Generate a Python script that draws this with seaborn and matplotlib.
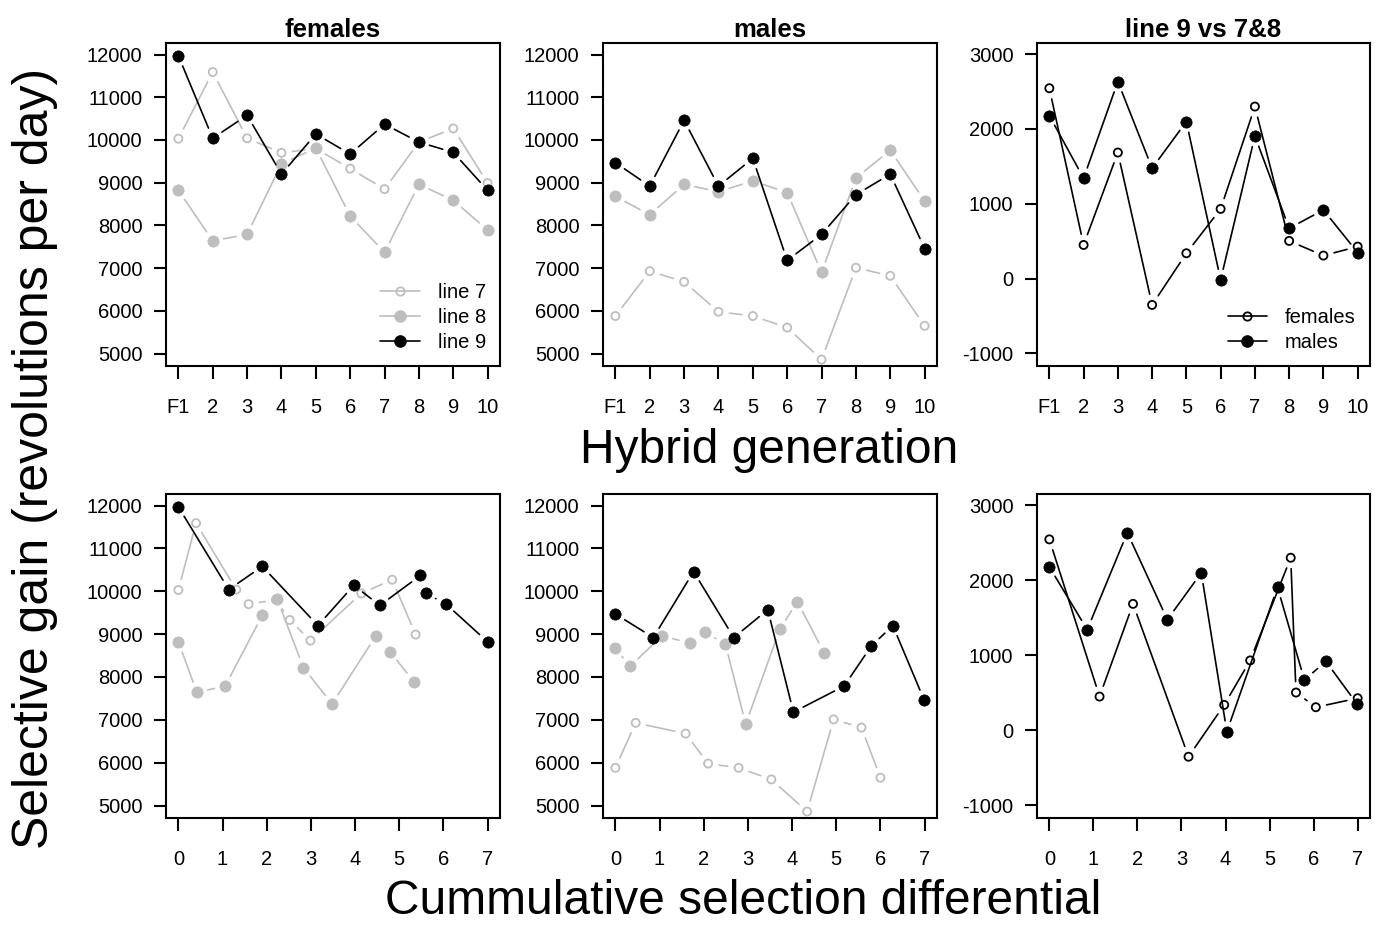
import numpy as np
import pandas as pd
import matplotlib
matplotlib.use("Agg")
import matplotlib.pyplot as plt
import seaborn as sns
from matplotlib.lines import Line2D

sns.set_theme(style="ticks")
plt.rcParams['font.family'] = ['Liberation Sans', 'DejaVu Sans']
plt.rcParams['text.color'] = 'black'
plt.rcParams['axes.labelcolor'] = 'black'

# ---- data -------------------------------------------------------------
generation = [1, 2, 3, 4, 5, 6, 7, 8, 9, 10]
generation_labels = ["F1", "2", "3", "4", "5", "6", "7", "8", "9", "10"]

# selective gain (revolutions per day), females
line7_f = [10030, 11590, 10040, 9700, 9800, 9330, 8850, 9950, 10270, 8990]
line8_f = [8820, 7640, 7790, 9440, 9810, 8220, 7370, 8960, 8590, 7890]
line9_f = [11970, 10040, 10580, 9200, 10140, 9670, 10370, 9950, 9710, 8820]

# selective gain (revolutions per day), males
line7_m = [5880, 6930, 6680, 5980, 5880, 5610, 4860, 7010, 6820, 5650]
line8_m = [8680, 8250, 8960, 8790, 9040, 8770, 6900, 9110, 9760, 8570]
line9_m = [9470, 8920, 10460, 8920, 9570, 7180, 7790, 8720, 9200, 7460]

# line 9 relative to lines 7 & 8
diff_f = [2545, 449, 1685, -353, 338, 931, 2300, 503, 307, 427]
diff_m = [2179, 1341, 2634, 1475, 2099, -19, 1907, 672, 917, 347]

# cumulative selection differential
csd_f7 = [0, 0.40, 1.31, 1.59, 2.21, 2.52, 2.99, 4.14, 4.84, 5.37]
csd_f8 = [0, 0.42, 1.06, 1.90, 2.24, 2.83, 3.48, 4.47, 4.79, 5.33]
csd_f9 = [0, 1.14, 1.90, 3.16, 3.97, 4.56, 5.48, 5.60, 6.05, 7.00]
csd_m7 = [0, 0.46, 1.59, 2.10, 2.79, 3.53, 4.34, 4.94, 5.57, 6.00]
csd_m8 = [0, 0.33, 1.06, 1.68, 2.03, 2.49, 2.95, 3.72, 4.12, 4.72]
csd_m9 = [0, 0.86, 1.77, 2.68, 3.45, 4.03, 5.18, 5.79, 6.28, 6.99]

gain_ticks = [5000, 6000, 7000, 8000, 9000, 10000, 11000, 12000]
diff_ticks = [-1000, 0, 1000, 2000, 3000]
csd_ticks = [0, 1, 2, 3, 4, 5, 6, 7]

GREY = "#BEBEBE"
BLACK = "#000000"

# ---- figure -----------------------------------------------------------
W, H = 1375, 925
fig = plt.figure(figsize=(W / 100, H / 100), dpi=100)

cols = [(166, 500), (603, 937), (1037, 1370)]
rows = [(43, 366), (494, 818)]


def make_axes(col, row):
    (x0, x1), (y0, y1) = cols[col], rows[row]
    return fig.add_axes([x0 / W, 1 - y1 / H, (x1 - x0) / W, (y1 - y0) / H])


GAIN_LIM = (4710, 12270)
DIFF_LIM = (-1170, 3150)
GEN_LIM = (0.64, 10.36)
CSD_LIM = (-0.28, 7.28)


def style_axes(ax, xlim, ylim, xticks, xlabels, yticks):
    ax.set_xlim(*xlim)
    ax.set_ylim(*ylim)
    ax.set_xticks(xticks)
    ax.set_xticklabels(xlabels)
    ax.set_yticks(yticks)
    ax.set_yticklabels([str(t) for t in yticks])
    ax.tick_params(axis="both", direction="out", length=9, width=1.5,
                   labelsize=14.5, colors=BLACK)
    ax.tick_params(axis="x", pad=14)
    ax.tick_params(axis="y", pad=8)
    for s in ax.spines.values():
        s.set_visible(True)
        s.set_linewidth(1.5)
        s.set_color(BLACK)
    ax.set_facecolor("white")
    ax.grid(False)


def draw_series(ax, x, y, color, filled, z, gap_px=11.0):
    """Points joined by segments that stop short of each point."""
    xy = ax.transData.transform(np.column_stack([x, y]))
    inv = ax.transData.inverted()
    recs = []
    for i in range(len(xy) - 1):
        p0, p1 = xy[i], xy[i + 1]
        d = p1 - p0
        L = float(np.hypot(d[0], d[1]))
        if L <= 2 * gap_px:
            continue
        u = d / L
        a, b = inv.transform(np.array([p0 + u * gap_px, p1 - u * gap_px]))
        recs.append({"seg": i, "x": a[0], "y": a[1]})
        recs.append({"seg": i, "x": b[0], "y": b[1]})
    if recs:
        seg = pd.DataFrame(recs)
        sns.lineplot(data=seg, x="x", y="y", units="seg", estimator=None,
                     color=color, linewidth=1.2, ax=ax, zorder=z,
                     legend=False)
    pts = pd.DataFrame({"x": x, "y": y})
    if filled:
        sns.scatterplot(data=pts, x="x", y="y", color=color, s=66,
                        edgecolor=color, linewidth=0.5, ax=ax,
                        zorder=z + 0.5, legend=False)
    else:
        sns.scatterplot(data=pts, x="x", y="y", facecolor="none",
                        edgecolor=color, s=34, linewidth=1.3, ax=ax,
                        zorder=z + 0.5, legend=False)


def panel(col, row, xlim, ylim, xticks, xlabels, yticks, series):
    ax = make_axes(col, row)
    style_axes(ax, xlim, ylim, xticks, xlabels, yticks)
    for k, (x, y, color, filled) in enumerate(series):
        draw_series(ax, x, y, color, filled, z=3 + k)
    style_axes(ax, xlim, ylim, xticks, xlabels, yticks)
    ax.set_xlabel("")
    ax.set_ylabel("")
    return ax


# top row: hybrid generation
ax_f = panel(0, 0, GEN_LIM, GAIN_LIM, generation, generation_labels, gain_ticks,
             [(generation, line7_f, GREY, False),
              (generation, line8_f, GREY, True),
              (generation, line9_f, BLACK, True)])
ax_m = panel(1, 0, GEN_LIM, GAIN_LIM, generation, generation_labels, gain_ticks,
             [(generation, line7_m, GREY, False),
              (generation, line8_m, GREY, True),
              (generation, line9_m, BLACK, True)])
ax_d = panel(2, 0, GEN_LIM, DIFF_LIM, generation, generation_labels, diff_ticks,
             [(generation, diff_f, BLACK, False),
              (generation, diff_m, BLACK, True)])

# bottom row: cumulative selection differential
csd_labels = [str(t) for t in csd_ticks]
panel(0, 1, CSD_LIM, GAIN_LIM, csd_ticks, csd_labels, gain_ticks,
      [(csd_f7, line7_f, GREY, False),
       (csd_f8, line8_f, GREY, True),
       (csd_f9, line9_f, BLACK, True)])
panel(1, 1, CSD_LIM, GAIN_LIM, csd_ticks, csd_labels, gain_ticks,
      [(csd_m7, line7_m, GREY, False),
       (csd_m8, line8_m, GREY, True),
       (csd_m9, line9_m, BLACK, True)])
panel(2, 1, CSD_LIM, DIFF_LIM, csd_ticks, csd_labels, diff_ticks,
      [(csd_f9, diff_f, BLACK, False),
       (csd_m9, diff_m, BLACK, True)])


# legends
def handle(color, filled):
    return Line2D([], [], color=color, linewidth=1.2, marker="o",
                  markersize=8.5 if filled else 6,
                  markerfacecolor=color if filled else "none",
                  markeredgecolor=color,
                  markeredgewidth=0.5 if filled else 1.3)


leg_kw = dict(frameon=False, fontsize=14.5, handlelength=1.95,
              handletextpad=0.9, labelspacing=0.3, borderaxespad=0.3,
              loc="lower right")
for ax, hs, labs in [
    (ax_f, [handle(GREY, False), handle(GREY, True), handle(BLACK, True)],
     ["line 7", "line 8", "line 9"]),
    (ax_d, [handle(BLACK, False), handle(BLACK, True)], ["females", "males"]),
]:
    leg = ax.legend(hs, labs, **leg_kw)
    for t in leg.get_texts():
        t.set_color(BLACK)

# panel titles
for ax, title in [(ax_f, "females"), (ax_m, "males"), (ax_d, "line 9 vs 7&8")]:
    bb = ax.get_position()
    fig.text((bb.x0 + bb.x1) / 2, 1 - 37 / H, title, ha="center", va="baseline",
             fontsize=18.5, fontweight="bold", color=BLACK)

# shared axis labels
fig.text(769 / W, 1 - 463 / H, "Hybrid generation", ha="center", va="baseline",
         fontsize=34.5, color=BLACK)
fig.text(743 / W, 1 - 914 / H, "Cummulative selection differential",
         ha="center", va="baseline", fontsize=34.5, color=BLACK)
fig.text(35 / W, 1 - 458 / H, "Selective gain (revolutions per day)",
         ha="center", va="center", rotation=90, fontsize=36, color=BLACK)

fig.savefig("out.png", dpi=100, facecolor="white")
